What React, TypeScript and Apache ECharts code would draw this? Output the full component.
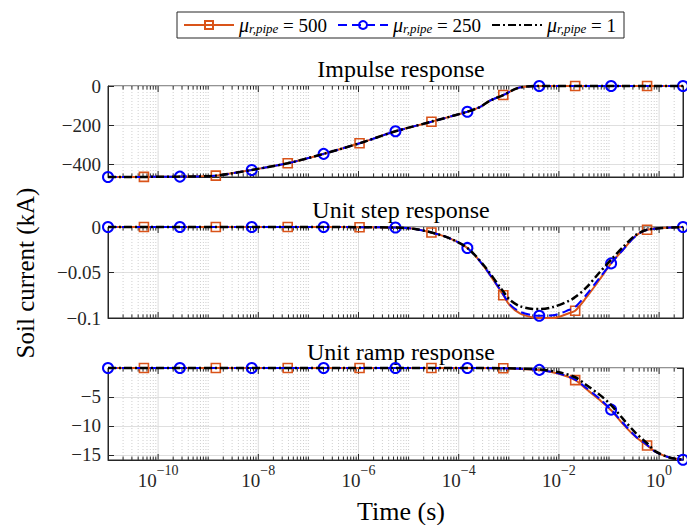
import React, { useEffect, useRef } from 'react';
import * as echarts from 'echarts';

// ---------- data (x values are log10 of time in seconds) ----------
const muValues = ['500', '250', '1'];
const seriesNames = ['μr,pipe = 500', 'μr,pipe = 250', 'μr,pipe = 1'];
const panelTitles = ['Impulse response', 'Unit step response', 'Unit ramp response'];
const timeMinSeconds = 1e-11;
const timeMaxSeconds = 3;

const markerLogT500 = [-10.283, -8.848, -7.413, -5.979, -4.544, -3.11, -1.675, -0.24];
const markerLogT250 = [-11, -9.565, -8.131, -6.696, -5.262, -3.827, -2.392, -0.958, 0.477];

const impulseLogT = [-11, -10.283, -9.565, -8.848, -8.131, -7.413, -6.696, -5.979, -5.262, -4.544, -3.827, -3.57, -3.37, -3.11, -2.84, -2.64, -2.392, -1.675, -0.958, -0.24, 0.477];
const impulse500 = [-464, -463.5, -462, -457, -428, -394, -346, -292, -231, -182, -131, -106, -74, -46, -12, -3, 0, 0, 0, 0, 0];
const impulse250 = [-464, -463.5, -462, -457, -428, -394, -346, -292, -231, -182, -131, -106, -74, -46, -12, -3, 0, 0, 0, 0, 0];
const impulse1 = [-464, -463.5, -462, -457, -428, -394, -346, -292, -231, -182, -131, -106, -74, -46, -12, -3, 0, 0, 0, 0, 0];

const stepLogT = [-11, -10.283, -9.565, -8.848, -8.131, -7.413, -6.696, -5.979, -5.262, -4.9, -4.544, -4.2, -3.827, -3.5, -3.11, -2.98, -2.78, -2.52, -2.392, -2.12, -1.79, -1.675, -1.46, -1.19, -0.958, -0.72, -0.47, -0.24, 0.477];
const step500 = [0, 0, 0, 0, 0, 0, 0, -0.0002, -0.0006, -0.002, -0.006, -0.012, -0.023, -0.043, -0.075, -0.086, -0.095, -0.0995, -0.1, -0.1, -0.0945, -0.092, -0.078, -0.058, -0.04, -0.025, -0.01, -0.003, 0];
const step250 = [0, 0, 0, 0, 0, 0, 0, -0.0002, -0.0006, -0.002, -0.006, -0.012, -0.023, -0.043, -0.074, -0.085, -0.093, -0.097, -0.0975, -0.097, -0.091, -0.088, -0.075, -0.056, -0.04, -0.025, -0.01, -0.003, 0];
const step1 = [0, 0, 0, 0, 0, 0, 0, -0.0002, -0.0006, -0.002, -0.006, -0.012, -0.023, -0.042, -0.071, -0.08, -0.087, -0.09, -0.0902, -0.088, -0.081, -0.077, -0.067, -0.05, -0.036, -0.022, -0.009, -0.003, 0];

const rampLogT = [-11, -10.283, -9.565, -8.848, -8.131, -7.413, -6.696, -5.979, -5.262, -4.544, -3.827, -3.11, -2.392, -2.0, -1.675, -1.46, -1.19, -0.958, -0.72, -0.47, -0.24, -0.07, 0.22, 0.477];
const ramp500 = [0, 0, 0, 0, 0, 0, 0, 0, 0, 0, -0.01, -0.05, -0.35, -1.0, -2.1, -3.6, -5.5, -7.3, -9.7, -11.9, -13.4, -14.5, -15.5, -15.85];
const ramp250 = [0, 0, 0, 0, 0, 0, 0, 0, 0, 0, -0.01, -0.05, -0.33, -0.95, -2.0, -3.4, -5.3, -7.2, -9.5, -11.8, -13.3, -14.5, -15.5, -15.85];
const ramp1 = [0, 0, 0, 0, 0, 0, 0, 0, 0, 0, -0.01, -0.04, -0.25, -0.75, -1.6, -2.9, -4.6, -6.4, -8.8, -11.2, -13.0, -14.4, -15.5, -15.85];

const yMins = [-464, -0.1, -15.9];
const yMaxs = [0, 0, 0];
const xLabelExponents = [-10, -8, -6, -4, -2, 0];

// ---------- styling ----------
const FONT = "'Liberation Serif', 'Times New Roman', serif";
const INK = '#262626';
const COLORS = ['#D95319', '#0000FF', '#000000'];
const GRID_LEFT = 108;
const GRID_RIGHT = 4;
const GRID_TOPS = [86, 227, 368];
const GRID_HEIGHTS = [91, 91, 92];

const LOG_MIN = Math.log10(timeMinSeconds);
const LOG_MAX = Math.log10(timeMaxSeconds);

function fmtNum(v: number): string {
  const r = +v.toFixed(6);
  if (r === 0) return '0';
  return (r < 0 ? '\u2212' : '') + String(Math.abs(r));
}

const yFormatters = [
  (v: number) => (Math.abs(v % 200) < 1e-6 ? fmtNum(v) : ''),
  (v: number) => fmtNum(v),
  (v: number) => (Math.abs(v % 5) < 1e-6 && Math.abs(v) > 1e-9 ? fmtNum(v) : ''),
];

function buildOption() {
  const panels = [
    { x: impulseLogT, ys: [impulse500, impulse250, impulse1] },
    { x: stepLogT, ys: [step500, step250, step1] },
    { x: rampLogT, ys: [ramp500, ramp250, ramp1] },
  ];

  const grid = GRID_TOPS.map((top, i) => ({
    left: GRID_LEFT, right: GRID_RIGHT, top, height: GRID_HEIGHTS[i],
    show: true, borderColor: INK, borderWidth: 1, backgroundColor: 'transparent',
  }));

  const xAxis = GRID_TOPS.map((_, i) => ({
    type: 'value', gridIndex: i, min: LOG_MIN, max: LOG_MAX, interval: 1,
    axisLine: { show: true, onZero: false, lineStyle: { color: INK, width: 1 } },
    axisTick: { show: false },
    splitLine: { show: false },
    axisLabel: i === 2 ? {
      show: true, margin: 3, color: INK,
      formatter: (v: number) => {
        const r = Math.round(v);
        if (Math.abs(v - r) > 1e-6 || !xLabelExponents.includes(r)) return '';
        return `{b|10}{s|${r === 0 ? '0' : '\u2212' + Math.abs(r)}}`;
      },
      rich: {
        b: { fontFamily: FONT, fontSize: 19, color: INK, lineHeight: 27, verticalAlign: 'bottom' },
        s: { fontFamily: FONT, fontSize: 14, color: INK, lineHeight: 14, verticalAlign: 'top' },
      },
    } : { show: false },
  }));

  const yAxis: any[] = [];
  GRID_TOPS.forEach((_, i) => {
    const scale: any = i === 1 ? { interval: 0.05 } : { splitNumber: 3 };
    yAxis.push({
      type: 'value', gridIndex: i, min: yMins[i], max: yMaxs[i], ...scale,
      axisLine: { show: true, onZero: false, lineStyle: { color: INK, width: 1 } },
      axisTick: { show: true, inside: true, length: 6, lineStyle: { color: INK } },
      splitLine: { show: true, lineStyle: { color: '#dfdfdf', width: 1 } },
      axisLabel: { show: true, margin: 7, color: INK, fontFamily: FONT, fontSize: 19, formatter: yFormatters[i] },
    });
    yAxis.push({
      type: 'value', gridIndex: i, position: 'right', min: yMins[i], max: yMaxs[i], ...scale,
      axisLine: { show: true, onZero: false, lineStyle: { color: INK, width: 1 } },
      axisTick: { show: true, inside: true, length: 6, lineStyle: { color: INK } },
      splitLine: { show: false },
      axisLabel: { show: false },
    });
  });

  // decorative log-axis ticks / minor grid positions
  const decor: number[][] = [];
  for (let n = Math.floor(LOG_MIN); n <= Math.ceil(LOG_MAX); n++) {
    for (let k = 1; k <= 9; k++) {
      const v = n + Math.log10(k);
      if (v <= LOG_MIN + 1e-9 || v >= LOG_MAX - 1e-9) continue;
      decor.push([v, k === 1 && n % 2 === 0 ? 1 : 0]);
    }
  }

  const series: any[] = [];
  GRID_TOPS.forEach((_, gi) => {
    series.push({
      type: 'custom', xAxisIndex: gi, yAxisIndex: gi * 2, silent: true, z: 1,
      encode: { x: 0, y: 1 },
      data: decor.map((d) => [d[0], (yMins[gi] + yMaxs[gi]) / 2, d[1]]),
      renderItem: (params: any, api: any) => {
        const cs = params.coordSys;
        const x = api.coord([api.value(0), api.value(1)])[0];
        const major = api.value(2) === 1;
        const top = cs.y;
        const bot = cs.y + cs.height;
        const tl = major ? 6 : 3.5;
        return {
          type: 'group',
          children: [
            { type: 'line', shape: { x1: x, y1: top, x2: x, y2: bot },
              style: { stroke: major ? '#dcdcdc' : '#cfcfcf', lineWidth: 1, lineDash: major ? null : [1, 2] } },
            { type: 'line', shape: { x1: x, y1: bot, x2: x, y2: bot - tl }, style: { stroke: INK, lineWidth: 1 } },
            { type: 'line', shape: { x1: x, y1: top, x2: x, y2: top + tl }, style: { stroke: INK, lineWidth: 1 } },
          ],
        };
      },
    });
  });

  const symbols = ['rect', 'circle', 'none'];
  const symbolSizes = [9, 10, 0];
  const markerLists = [markerLogT500, markerLogT250, [] as number[]];
  const lineTypes: any[] = ['solid', [9, 5], [8, 3, 2, 3]];
  const lineWidths = [2, 2, 2.5];
  const markerBorders = [COLORS[0], COLORS[1], 'rgba(0,0,0,0)'];

  panels.forEach((p, gi) => {
    p.ys.forEach((ys, si) => {
      series.push({
        type: 'line', name: seriesNames[si], xAxisIndex: gi, yAxisIndex: gi * 2,
        data: p.x.map((x, i) => {
          const isMarker = markerLists[si].some((m) => Math.abs(m - x) < 1e-3);
          return isMarker ? { value: [x, ys[i]] } : { value: [x, ys[i]], symbol: 'none' };
        }),
        symbol: symbols[si], symbolSize: symbolSizes[si], showSymbol: true,
        smooth: 0.3, clip: false, silent: true, z: 3 + si,
        lineStyle: { color: COLORS[si], width: lineWidths[si], type: lineTypes[si] },
        itemStyle: { color: 'rgba(255,255,255,0)', borderColor: markerBorders[si], borderWidth: si === 1 ? 2 : 1.6 },
        emphasis: { disabled: true },
      });
    });
  });

  const graphic: any[] = [];
  const titleYs = [68.5, 209.5, 352];
  panelTitles.forEach((t, i) => {
    graphic.push({
      type: 'text', x: 401, y: titleYs[i], silent: true,
      style: { text: t, fontFamily: FONT, fontSize: 24, fill: '#000', align: 'center', verticalAlign: 'middle' },
    });
  });
  graphic.push({
    type: 'text', x: 25, y: 273, rotation: Math.PI / 2, silent: true,
    style: { text: 'Soil current (kA)', fontFamily: FONT, fontSize: 25, fill: '#000', align: 'center', verticalAlign: 'middle' },
  });
  graphic.push({
    type: 'text', x: 401, y: 511, silent: true,
    style: { text: 'Time (s)', fontFamily: FONT, fontSize: 26, fill: '#000', align: 'center', verticalAlign: 'middle' },
  });

  return {
    animation: false,
    backgroundColor: '#ffffff',
    grid, xAxis, yAxis, series, graphic,
    legend: {
      data: seriesNames,
      top: 12, left: 177,
      itemWidth: 50, itemHeight: 10, itemGap: 10,
      padding: [3, 8, 3, 6],
      borderColor: INK, borderWidth: 1, borderRadius: 0,
      backgroundColor: '#ffffff',
      selectedMode: false,
      formatter: (name: string) => `{i|μ}{s|r,pipe}{n| = ${muValues[seriesNames.indexOf(name)]}}`,
      textStyle: {
        color: '#000', fontFamily: FONT, fontSize: 19,
        rich: {
          i: { fontFamily: FONT, fontSize: 20, fontStyle: 'italic', color: '#000', lineHeight: 20 },
          s: { fontFamily: FONT, fontSize: 13, fontStyle: 'italic', color: '#000', lineHeight: 12, verticalAlign: 'bottom' },
          n: { fontFamily: FONT, fontSize: 19, color: '#000', lineHeight: 20 },
        },
      },
    },
  };
}

export default function App() {
  const ref = useRef<HTMLDivElement>(null);
  useEffect(() => {
    document.body.style.margin = '0';
    const chart = echarts.init(ref.current!, null, { renderer: 'svg' });
    chart.setOption(buildOption() as any);
    return () => chart.dispose();
  }, []);
  return <div ref={ref} style={{ width: 687, height: 525 }} />;
}
